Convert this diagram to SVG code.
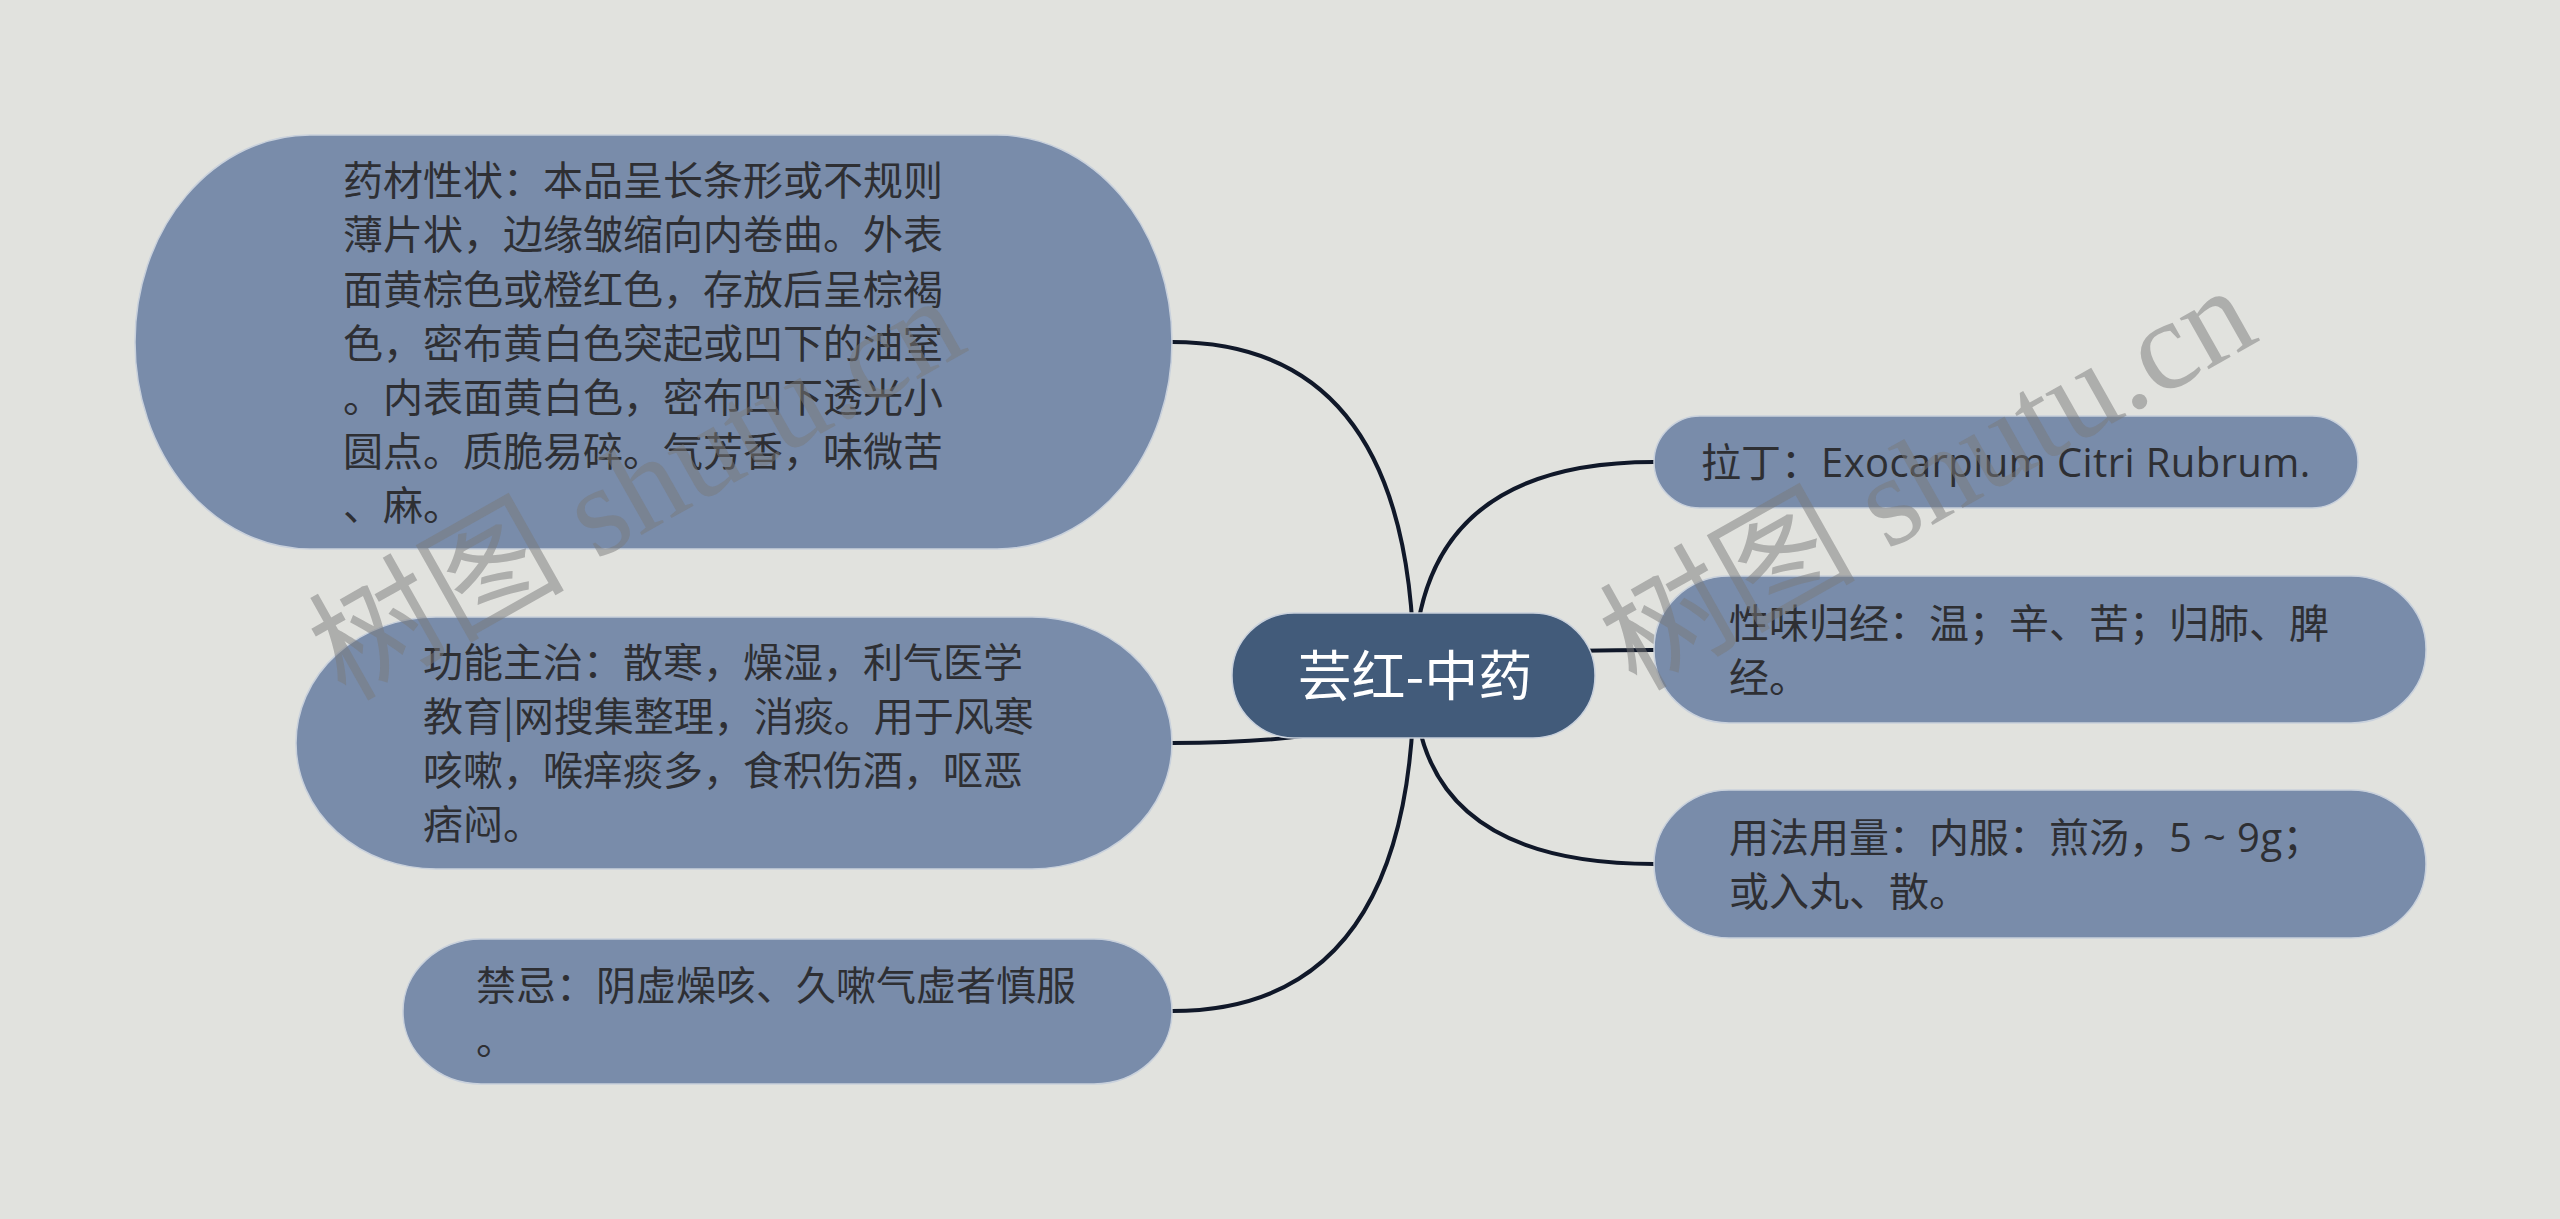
<svg xmlns="http://www.w3.org/2000/svg" width="2560" height="1219" viewBox="0 0 2560 1219">
<style>
.bg{fill:#e1e2de}
.node{fill:#798caa;stroke:#c9d1dc;stroke-width:1.5}
.root{fill:#425b7a;stroke:#c9d1dc;stroke-width:1.5}
.t{font-family:"Noto Sans CJK SC","Open Sans",sans-serif;font-size:40px;fill:#2e2f33}
.lat{font-family:"Open Sans","Noto Sans CJK SC",sans-serif;letter-spacing:0.4px}
.rt{font-family:"Noto Sans CJK SC",sans-serif;font-size:54px;fill:#ffffff;text-anchor:middle}
.edge{fill:none;stroke:#101829;stroke-width:4}
.wm{font-family:"Liberation Serif","Noto Sans CJK SC",serif;font-size:128px;fill:#7a7a7a;fill-opacity:0.5}
</style>
<rect class="bg" x="0" y="0" width="2560" height="1219"/>
<g id="connectors">
<path class="edge" d="M1414,676 Q1414,342 1172,342"/>
<path class="edge" d="M1414,676 Q1414,743 1172,743"/>
<path class="edge" d="M1414,676 Q1414,1011 1172,1011"/>
<path class="edge" d="M1414,676 Q1414,462 1654,462"/>
<path class="edge" d="M1414,676 Q1414,650 1654,650"/>
<path class="edge" d="M1414,676 Q1414,864 1654,864"/>
</g>
<g id="node-root">
<rect class="root" x="1232" y="613" width="363" height="125" rx="62" ry="62"/>
<text class="rt" x="1415" y="696">芸红-中药</text>
</g>
<g id="node-xingzhuang">
<rect class="node" x="135" y="135" width="1037" height="414" rx="175" ry="207"/>
<text class="t" x="343" y="195">药材性状：本品呈长条形或不规则</text>
<text class="t" x="343" y="249">薄片状，边缘皱缩向内卷曲。外表</text>
<text class="t" x="343" y="304">面黄棕色或橙红色，存放后呈棕褐</text>
<text class="t" x="343" y="358">色，密布黄白色突起或凹下的油室</text>
<text class="t" x="343" y="412">。内表面黄白色，密布凹下透光小</text>
<text class="t" x="343" y="466">圆点。质脆易碎。气芳香，味微苦</text>
<text class="t" x="343" y="520">、麻。</text>
</g>
<g id="node-gongneng">
<rect class="node" x="296" y="617" width="876" height="252" rx="140" ry="126"/>
<text class="t" x="423" y="677">功能主治：散寒，燥湿，利气医学</text>
<text class="t" x="423" y="731">教育|网搜集整理，消痰。用于风寒</text>
<text class="t" x="423" y="785">咳嗽，喉痒痰多，食积伤酒，呕恶</text>
<text class="t" x="423" y="839">痞闷。</text>
</g>
<g id="node-jinji">
<rect class="node" x="403" y="939" width="769" height="145" rx="78" ry="72"/>
<text class="t" x="476" y="1000">禁忌：阴虚燥咳、久嗽气虚者慎服</text>
<text class="t" x="476" y="1054">。</text>
</g>
<g id="node-lading">
<rect class="node" x="1654" y="416" width="704" height="92" rx="46" ry="46"/>
<text class="t" x="1701" y="477">拉丁：<tspan class="lat">Exocarpium Citri Rubrum.</tspan></text>
</g>
<g id="node-xingwei">
<rect class="node" x="1654" y="576" width="772" height="147" rx="75" ry="73"/>
<text class="t" x="1729" y="638">性味归经：温；辛、苦；归肺、脾</text>
<text class="t" x="1729" y="692">经。</text>
</g>
<g id="node-yongfa">
<rect class="node" x="1654" y="790" width="772" height="148" rx="75" ry="74"/>
<text class="t" x="1729" y="852">用法用量：内服：煎汤，<tspan class="lat">5 ~ 9g</tspan>；</text>
<text class="t" x="1729" y="906">或入丸、散。</text>
</g>
<g id="watermarks">
<text class="wm" transform="translate(345,702) rotate(-29.4)">树图 shutu.cn</text>
<text class="wm" transform="translate(1636,692) rotate(-29.4)">树图 shutu.cn</text>
</g>
</svg>
